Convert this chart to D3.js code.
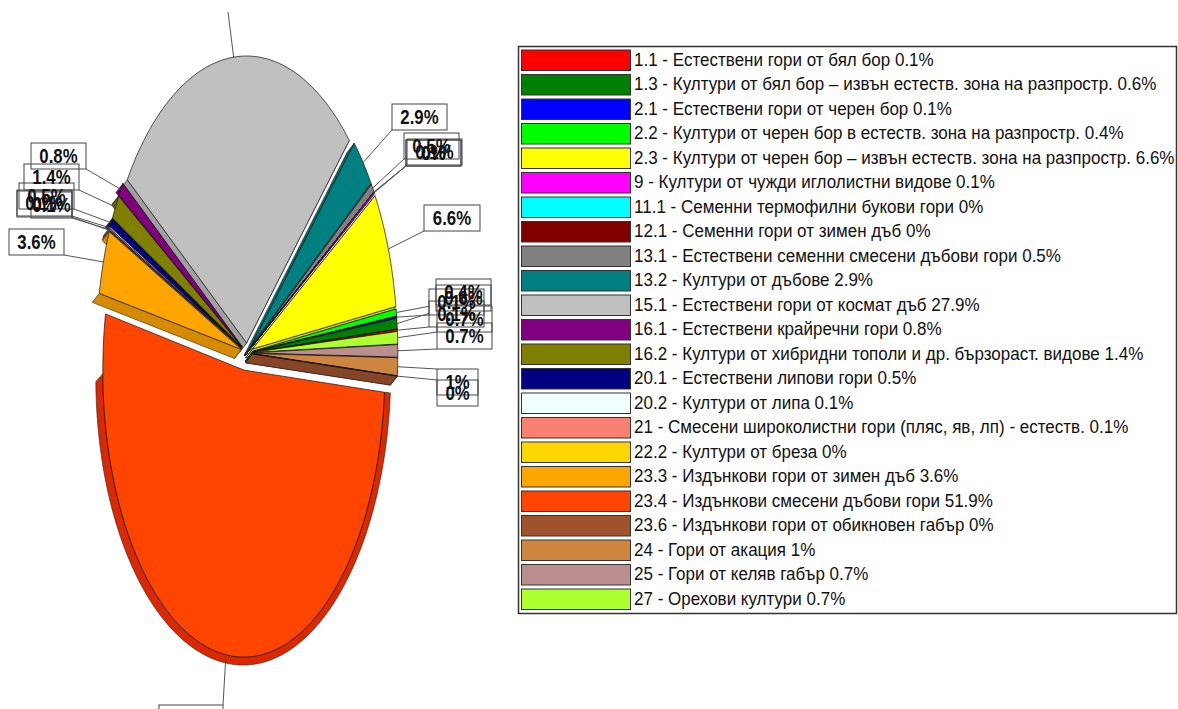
<!DOCTYPE html>
<html>
<head>
<meta charset="utf-8">
<script src="https://cdn.jsdelivr.net/npm/d3@7"></script>
<style>
  html, body { margin: 0; padding: 0; background: #fff; overflow: hidden; }
  svg { display: block; font-family: "Liberation Sans", Arial, sans-serif; }
</style>
</head>
<body>
<script>
const categories = [
  '1.1 - Естествени гори от бял бор',
  '1.3 - Култури от бял бор – извън естеств. зона на разпростр.',
  '2.1 - Естествени гори от черен бор',
  '2.2 - Култури от черен бор в естеств. зона на разпростр.',
  '2.3 - Култури от черен бор – извън естеств. зона на разпростр.',
  '9 - Култури от чужди иглолистни видове',
  '11.1 - Семенни термофилни букови гори',
  '12.1 - Семенни гори от зимен дъб',
  '13.1 - Естествени семенни смесени дъбови гори',
  '13.2 - Култури от дъбове',
  '15.1 - Естествени гори от космат дъб',
  '16.1 - Естествени крайречни гори',
  '16.2 - Култури от хибридни тополи и др. бързораст. видове',
  '20.1 - Естествени липови гори',
  '20.2 - Култури от липа',
  '21 - Смесени широколистни гори (пляс, яв, лп) - естеств.',
  '22.2 - Култури от бреза',
  '23.3 - Издънкови гори от зимен дъб',
  '23.4 - Издънкови смесени дъбови гори',
  '23.6 - Издънкови гори от обикновен габър',
  '24 - Гори от акация',
  '25 - Гори от келяв габър',
  '27 - Орехови култури',
]
const values = [0.1, 0.6, 0.1, 0.4, 6.6, 0.1, 0, 0, 0.5, 2.9, 27.9, 0.8, 1.4, 0.5, 0.1, 0.1, 0, 3.6, 51.9, 0, 1, 0.7, 0.7]
const colors = [
  '#ff0000', '#008000', '#0000ff', '#00ff00', '#ffff00', '#ff00ff', '#00ffff', '#800000',
  '#808080', '#008080', '#c0c0c0', '#800080', '#808000', '#000080', '#f0ffff', '#fa8072',
  '#ffd700', '#ffa500', '#ff4500', '#a0522d', '#cd853f', '#bc8f8f', '#adff2f',
]

// how far each slice is pulled out of the pie, in radius units
const explode = [0.04, 0.04, 0.04, 0.04, 0.04, 0.04, 0.04, 0.04, 0.04, 0.04, 0.035, 0.04, 0.04, 0.04, 0.04, 0.04, 0.04, 0.04, 0.06, 0.04, 0.04, 0.04, 0.04]

// label box layout, same order as the values: x, y, width, which corner the leader goes to
const labelBoxes = [
  [429, 301, 55, 'bl'], [436, 285, 55, 'bl'], [429, 289, 55, 'bl'], [436, 279, 55, 'bl'],
  [424, 205, 56, 'bl'], [407, 139, 55, 'bl'], [406, 140, 55, 'bl'], [406, 140, 55, 'bl'],
  [404, 133, 55, 'bl'], [392, 104, 55, 'bl'], null, [31, 143, 55, 'br'],
  [24, 164, 55, 'br'], [19, 183, 55, 'br'], [17, 190, 55, 'br'], [31, 192, 41, 'br'],
  [17, 191, 55, 'br'], [9, 229, 55, 'br'], [159, 705, 64, 'tr'], [437, 380, 41, 'tl'],
  [437, 369, 41, 'tl'], [437, 323, 55, 'bl'], [437, 306, 55, 'bl'],
]
const labelHeight = 26
const grayLeaderEnd = [228, 12]

const width = 1178
const height = 709
const tilt = 4.2 * Math.PI / 180
const depth = [-7, 9]
const bigSlice = values.indexOf(d3.max(values))
const bigWallColor = '#dc2800'

const x = d3.scaleLinear().domain([-1, 1]).range([102, 392])
const y = d3.scaleLinear().domain([-1, 1]).range([640, 66])
// the big slice sits inside a wider dark rim
const bigFaceX = d3.scaleLinear().domain([101, 391]).range([103, 385])
const bigRimX = d3.scaleLinear().domain([101, 391]).range([96, 391])

const svg = d3.select('body').append('svg').attr('width', width).attr('height', height)

const slices = d3.pie().sort(null).startAngle(tilt).endAngle(tilt + 2 * Math.PI)(values)
  .map((s, i) => ({ ...s, i, mid: (s.startAngle + s.endAngle) / 2 }))

const onRim = (s, angle, r = 1) => [
  x(Math.cos(angle) * r + Math.cos(s.mid) * explode[s.i]),
  y(Math.sin(angle) * r + Math.sin(s.mid) * explode[s.i]),
]
const sliceAngles = (s) => {
  const n = Math.max(1, Math.ceil((s.endAngle - s.startAngle) / 0.03))
  return d3.range(n + 1).map((k) => s.startAngle + (s.endAngle - s.startAngle) * k / n)
}
const shift = (p) => [p[0] + depth[0], p[1] + depth[1]]
const line = d3.line().curve(d3.curveLinearClosed)

const pie = svg.append('g')
const drawWall = (points, color) => pie.append('path').attr('d', line(points))
  .attr('fill', color).attr('stroke', '#222').attr('stroke-width', 0.6)
const drawFace = (points, color) => pie.append('path').attr('d', line(points))
  .attr('fill', color).attr('stroke', '#111').attr('stroke-width', 0.7)

const drawBigSlice = (s) => {
  const face = ([px, py]) => [bigFaceX(px), py]
  const angles = sliceAngles(s)
  // outer wall only shows from the left side of the pie round to the right
  const wallAngles = angles.filter((a) => a >= Math.PI)
  const dark = (a) => {
    const [px, py] = onRim(s, a)
    const drop = Math.cos(a) > 0 ? 8 * Math.abs(Math.sin(a)) : 8
    return [bigRimX(px), py + drop]
  }
  const wall = wallAngles.map((a) => face(onRim(s, a))).concat(wallAngles.map(dark).reverse())
  drawWall(wall, bigWallColor)
  drawFace([face(onRim(s, 0, 0))].concat(angles.map((a) => face(onRim(s, a)))), colors[s.i])
}

const drawSlice = (s) => {
  const apex = onRim(s, 0, 0)
  const rim = sliceAngles(s).map((a) => onRim(s, a))
  const wallColor = d3.color(colors[s.i]).darker(0.5).formatHex()
  // only the side walls show on the small slices
  drawWall([apex, rim[0], shift(rim[0]), shift(apex)], wallColor)
  drawWall([apex, rim[rim.length - 1], shift(rim[rim.length - 1]), shift(apex)], wallColor)
  drawFace([apex].concat(rim), colors[s.i])
}

// back to front, so a lower slice covers the wall of the one above it
slices.slice()
  .sort((a, b) => d3.ascending(onRim(a, a.mid)[1], onRim(b, b.mid)[1]))
  .forEach((s) => (s.i === bigSlice ? drawBigSlice(s) : drawSlice(s)))

const labels = svg.append('g')
const boxed = slices.filter((s) => labelBoxes[s.i])

labels.append('line')
  .attr('x1', onRim(slices[10], slices[10].mid)[0]).attr('y1', onRim(slices[10], slices[10].mid)[1])
  .attr('x2', grayLeaderEnd[0]).attr('y2', grayLeaderEnd[1])
  .attr('stroke', '#555').attr('stroke-width', 1)

boxed.forEach((s) => {
  const [bx, by, bw, corner] = labelBoxes[s.i]
  const from = onRim(s, s.mid)
  labels.append('line')
    .attr('x1', from[0]).attr('y1', from[1])
    .attr('x2', corner[1] === 'l' ? bx : bx + bw).attr('y2', corner[0] === 't' ? by : by + labelHeight)
    .attr('stroke', '#555').attr('stroke-width', 1)
})
// white first, then frames and texts, the frames of a crowded group show through each other
boxed.forEach((s) => {
  const [bx, by, bw] = labelBoxes[s.i]
  labels.append('rect').attr('x', bx).attr('y', by).attr('width', bw).attr('height', labelHeight).attr('fill', '#fff')
})
boxed.forEach((s) => {
  const [bx, by, bw] = labelBoxes[s.i]
  labels.append('rect').attr('x', bx).attr('y', by).attr('width', bw).attr('height', labelHeight)
    .attr('fill', 'none').attr('stroke', '#444').attr('stroke-width', 1)
})
boxed.forEach((s) => {
  const [bx, by, bw] = labelBoxes[s.i]
  labels.append('text')
    .attr('transform', `translate(${bx + bw / 2},${by + labelHeight / 2 + 7}) scale(0.84,1)`)
    .attr('text-anchor', 'middle').attr('font-size', 20).attr('font-weight', 'bold').attr('fill', '#111')
    .text(`${values[s.i]}%`)
})

const legendY = d3.scaleBand().domain(categories).range([50, 609.5]).paddingInner(0.163).paddingOuter(0)
const legend = svg.append('g')
legend.append('rect').attr('x', 518.5).attr('y', 46.5).attr('width', 658).attr('height', 567)
  .attr('fill', '#fff').attr('stroke', '#333').attr('stroke-width', 1.5)
categories.forEach((name, i) => {
  const top = legendY(name)
  legend.append('rect').attr('x', 521.5).attr('y', top).attr('width', 109).attr('height', legendY.bandwidth())
    .attr('fill', colors[i]).attr('stroke', '#333').attr('stroke-width', 1)
  legend.append('text')
    .attr('transform', `translate(634,${top + legendY.bandwidth() / 2 + 5.5}) scale(0.92,1)`)
    .attr('font-size', 18.5).attr('fill', '#111')
    .text(`${name} ${values[i]}%`)
})
</script>
</body>
</html>
